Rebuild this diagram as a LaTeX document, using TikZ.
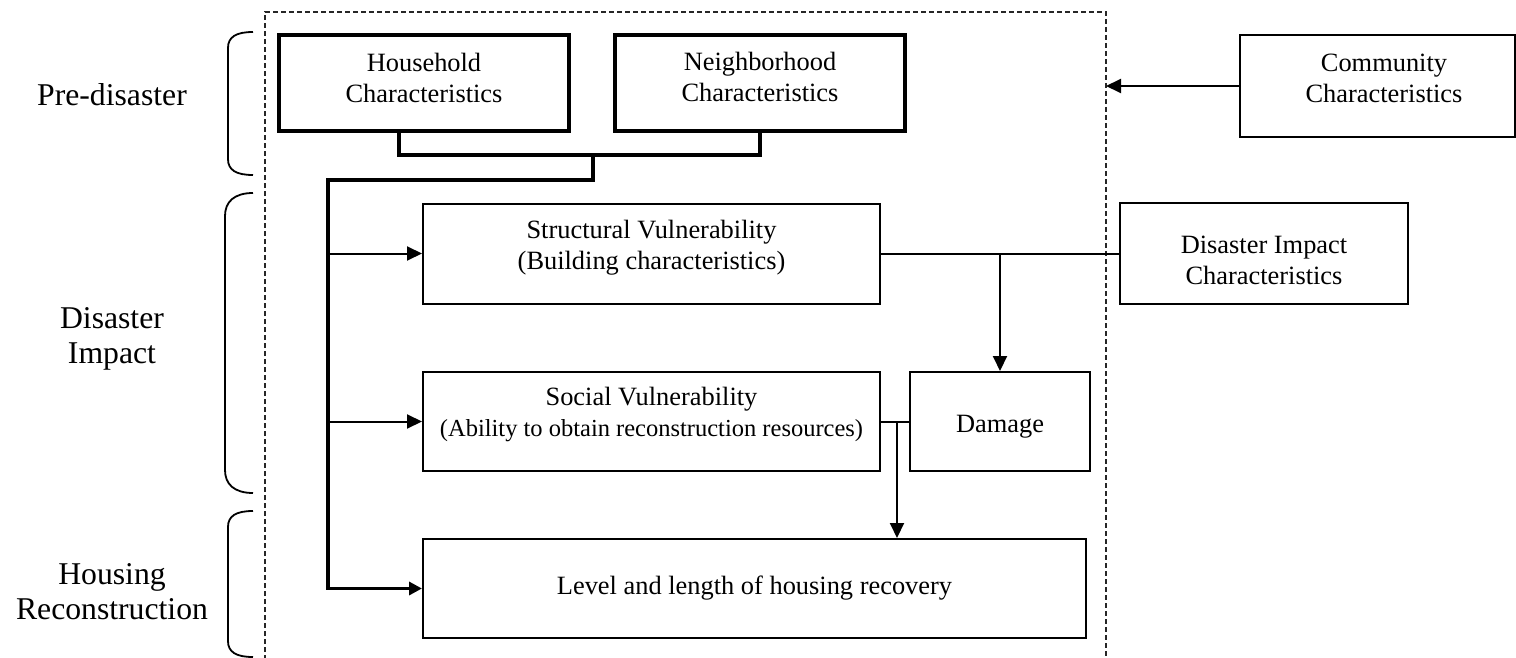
\documentclass[tikz,border=0pt]{standalone}
\usepackage{fontspec}
\setmainfont{Liberation Serif}
\usetikzlibrary{arrows.meta,calc}
\tikzset{
  box/.style={draw, line width=2pt, inner sep=0pt},
  thickbox/.style={box, line width=3.6pt},
  boxtext/.style={align=center, font=\fontsize{26.4}{31}\selectfont, inner sep=0pt},
  thinline/.style={line width=2pt},
  thickline/.style={line width=3.6pt},
  arr/.style={thinline, -{Triangle[length=15pt,width=14pt]}},
  thickarr/.style={thickline, -{Triangle[length=13pt,width=13pt]}},
  stage/.style={align=center, font=\fontsize{31.7}{35}\selectfont},
  brace/.style={line width=1.8pt},
  frame/.style={line width=1.3pt, black!85, dash pattern=on 5pt off 3pt}
}
\begin{document}
\begin{tikzpicture}[x=1pt,y=-1pt]
\useasboundingbox (0,0) rectangle (1516,658);

% dashed frame
\draw[frame] (265,700) -- (265,12) -- (1106,12) -- (1106,700);
\coordinate (dr) at (1106,12);

% boxes
\node[thickbox, minimum width=290pt, minimum height=96pt,
  label={[boxtext, yshift=5pt]center:Household\\Characteristics}] (hh) at (424,83) {};
\node[thickbox, minimum width=290pt, minimum height=96pt,
  label={[boxtext, yshift=6pt]center:Neighborhood\\Characteristics}] (nb) at (760,83) {};
\node[box, minimum width=275pt, minimum height=102pt,
  label={[boxtext, yshift=8pt, xshift=7pt]center:Community\\Characteristics}] (comm) at (1377,86) {};
\node[box, minimum width=457pt, minimum height=100pt,
  label={[boxtext, yshift=6pt]center:Structural Vulnerability\\(Building characteristics)}] (struct) at (651.5,253.5) {};
\node[box, minimum width=288pt, minimum height=101pt,
  label={[boxtext, yshift=-7pt]center:Disaster Impact\\Characteristics}] (di) at (1264,253.5) {};
\node[box, minimum width=457pt, minimum height=99pt,
  label={[boxtext, yshift=7pt]center:Social Vulnerability\\{\fontsize{24.5}{31}\selectfont(Ability to obtain reconstruction resources)}}] (social) at (651.5,421.5) {};
\node[box, minimum width=180pt, minimum height=99pt,
  label={[boxtext, yshift=-5pt]center:Damage}] (dmg) at (1000,421.5) {};
\node[box, minimum width=663pt, minimum height=99pt,
  label={[boxtext]center:Level and length of housing recovery}] (level) at (754.5,588.5) {};

% stage labels
\node[stage] (pre) at (112,95) {Pre-disaster};
\node[stage] (imp) at (112,339) {Disaster\\Impact};
\node[stage] (rec) at (112,592) {Housing\\Reconstruction};

% braces
\draw[brace] (253,32) .. controls (236,32) and (228,37) .. (228,48) -- (228,159) .. controls (228,170) and (236,175) .. (253,175);
\draw[brace] (253,193) .. controls (234,193) and (225,202) .. (225,216) -- (225,470) .. controls (225,484) and (234,493) .. (253,493);
\draw[brace] (253,511) .. controls (236,511) and (228,516) .. (228,527) -- (228,641) .. controls (228,652) and (236,657) .. (253,657);

% top connectors
\coordinate (hb) at ($(hh.south west)+(122,0)$);
\coordinate (j) at (593,155);
\coordinate (trunk) at (328,180);
\draw[thickline] (hb) |- (j) -| (nb.south);
\draw[thickarr] (j) -- (j |- trunk) -- (trunk) |- (level.west);
\draw[arr] (trunk |- struct.west) -- (struct.west);
\draw[arr] (trunk |- social.west) -- (social.west);

% community
\draw[arr] (comm.west) -- (comm.west -| dr);

% disaster impact
\draw[thinline] (struct.east) -- (di.west);
\draw[arr] (dmg.north |- struct.east) -- (dmg.north);

% social to damage and level
\draw[thinline] (social.east) -- (dmg.west);
\coordinate (sb) at ($(social.east)+(16,0)$);
\draw[arr] (sb) -- (sb |- level.north);
\end{tikzpicture}
\end{document}
